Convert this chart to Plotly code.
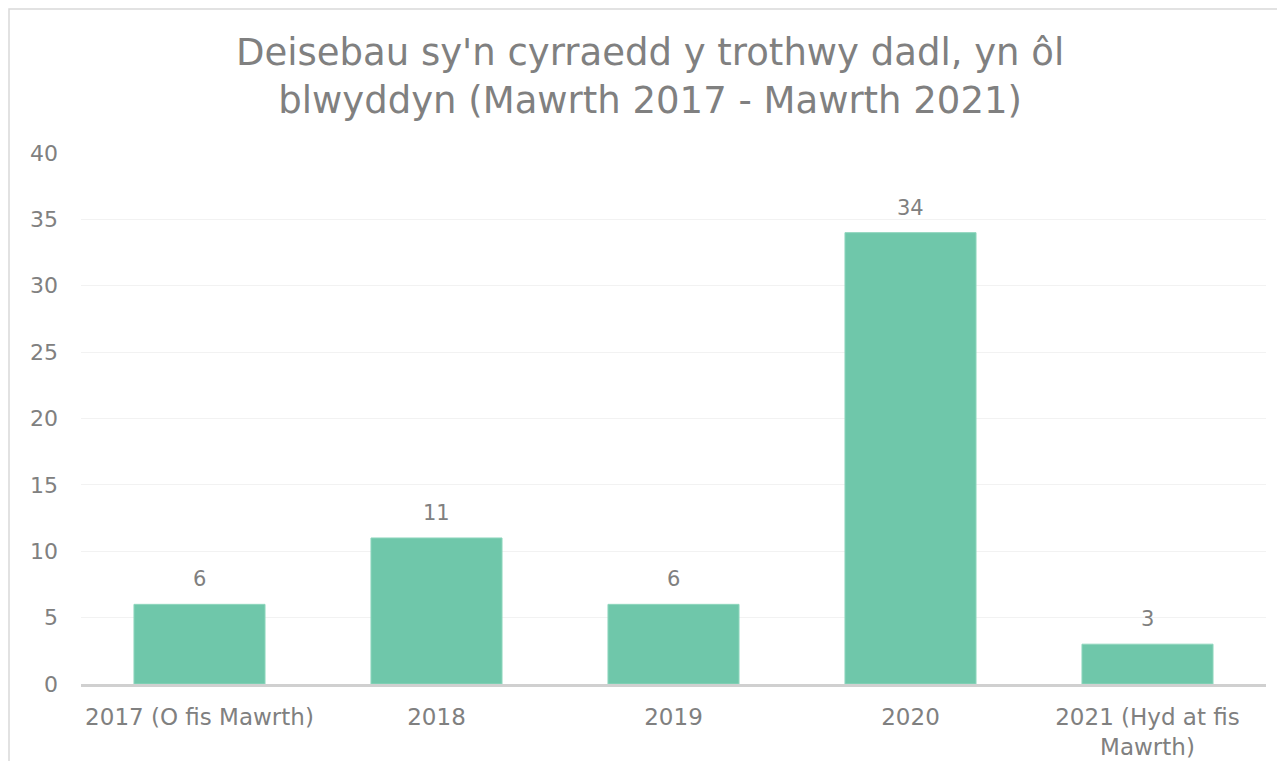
import plotly.graph_objects as go

categories = ["2017 (O fis Mawrth)", "2018", "2019", "2020", "2021 (Hyd at fis<br>Mawrth)"]
values = [6, 11, 6, 34, 3]
tick_vals = [0, 5, 10, 15, 20, 25, 30, 35, 40]

W, H = 1269, 753
L, R, T, B = 73, 11, 145, 77
pw, ph = W - L - R, H - T - B
FONT = "DejaVu Sans"
GREY = "#808080"

fig = go.Figure(go.Bar(
    x=categories, y=values,
    marker=dict(color="#6fc7aa", line=dict(color="#8fd6bd", width=1)),
    cliponaxis=False,
))

for i, v in enumerate(values):
    fig.add_annotation(x=i, y=v, text=str(v), showarrow=False, yanchor="bottom", yshift=11,
                       font=dict(family=FONT, size=21, color=GREY))

fig.update_layout(
    width=W, height=H,
    margin=dict(l=L, r=R, t=T, b=B, pad=0),
    paper_bgcolor="white", plot_bgcolor="white",
    bargap=0.447,
    showlegend=False,
    title=dict(text="Deisebau sy'n cyrraedd y trothwy dadl, yn ôl<br>blwyddyn (Mawrth 2017 - Mawrth 2021)",
               x=0.506, xanchor="center", y=0.924, yanchor="middle",
               font=dict(family=FONT, size=37, color=GREY)),
    font=dict(family=FONT, size=21, color=GREY),
    xaxis=dict(type="category", showline=True, linecolor="#d0d0d0", linewidth=3, ticks="",
               ticklabelstandoff=10, automargin=False,
               tickfont=dict(family=FONT, size=23, color=GREY)),
    yaxis=dict(range=[0, 40], tickvals=tick_vals, showgrid=True, gridcolor="#f2f2f2", gridwidth=1,
               zeroline=False, ticks="", ticklabelstandoff=22, automargin=False,
               tickfont=dict(family=FONT, size=22, color=GREY)),
    shapes=[dict(type="rect", xref="paper", yref="paper",
                 x0=(1 - L) / pw, x1=(W + 20 - L) / pw,
                 y0=(T + ph - (H + 20)) / ph, y1=(T + ph - 1) / ph,
                 line=dict(color="#d9d9d9", width=1.5), fillcolor="rgba(0,0,0,0)", layer="below")],
)

fig.write_html("out.html")
